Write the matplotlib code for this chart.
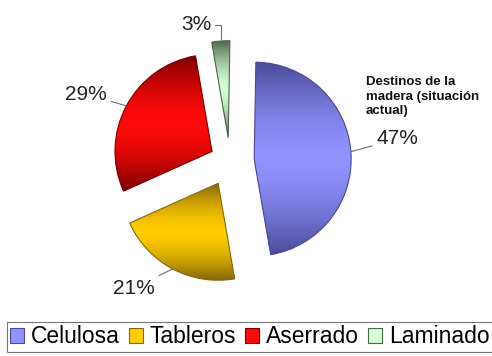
import numpy as np
import matplotlib
matplotlib.use("Agg")
import matplotlib.pyplot as plt
from matplotlib.patches import Patch
from matplotlib.colors import to_rgb

plt.rcParams['font.family'] = ['Liberation Sans', 'DejaVu Sans']

# data
categories = ["Celulosa", "Tableros", "Aserrado", "Laminado"]
values = [47, 21, 29, 3]
labels = ["47%", "21%", "29%", "3%"]
title = "Destinos de la\nmadera (situación\nactual)"

bright = ["#9292ff", "#ffcc00", "#ff0a0a", "#d4ffd4"]
dark = ["#4a4a98", "#86680a", "#7a0000", "#4a644a"]
explode_frac = [0.25, 0.26, 0.21, 0.24]

W, H = 492, 356
fig = plt.figure(figsize=(W / 100, H / 100), dpi=100)
ax = fig.add_axes([0, 0, 1, 1])

center = (230, 195)
R = 97
# matplotlib's explode is in data units -> scale by radius
explode = [f * R for f in explode_frac]
wedges, _ = ax.pie(values, explode=explode, startangle=89, counterclock=False,
                   center=center, radius=R, frame=True,
                   wedgeprops=dict(linewidth=0.8))
ax.set_xlim(0, W)
ax.set_ylim(0, H)
ax.set_aspect('equal')
ax.axis('off')

# gradient fills clipped to wedges
for w, b, d in zip(wedges, bright, dark):
    ext = w.get_path().get_extents(w.get_patch_transform())
    x0, y0, x1, y1 = ext.x0, ext.y0, ext.x1, ext.y1
    n = 200
    t = np.linspace(-1, 1, n)
    s = 1 - np.abs(t) ** 1.6
    bc, dc = np.array(to_rgb(b)), np.array(to_rgb(d))
    col = dc[None, :] * (1 - s[:, None]) + bc[None, :] * s[:, None]
    img = np.repeat(col[:, None, :], 2, axis=1)
    im = ax.imshow(img, extent=[x0, x1, y0, y1], origin='lower',
                   aspect='auto', interpolation='bilinear', zorder=1)
    im.set_clip_path(w)
    w.set_facecolor('none')
    w.set_edgecolor(d)
    w.set_zorder(2)

# percent labels with leaders
label_pos = {"47%": (397, 217), "21%": (134, 68), "29%": (86, 262), "3%": (196, 331)}
for w, lab in zip(wedges, labels):
    mid = np.deg2rad((w.theta1 + w.theta2) / 2)
    px = w.center[0] + w.r * np.cos(mid)
    py = w.center[1] + w.r * np.sin(mid)
    tx, ty = label_pos[lab]
    if lab == "3%":
        cs = "angle,angleA=0,angleB=90,rad=0"
    else:
        cs = "arc3"
    ax.annotate(lab, xy=(px, py), xytext=(tx, ty), ha='center', va='center',
                fontsize=15, color='#222222', zorder=3,
                arrowprops=dict(arrowstyle='-', color='#707070', lw=0.8,
                                shrinkA=1, shrinkB=0, connectionstyle=cs))

ax.text(366, 280, title, ha='left', va='top', fontsize=9.5, fontweight='bold',
        color='#111111', linespacing=1.3)

handles = [Patch(facecolor=b, edgecolor=d, lw=0.8) for b, d in zip(bright, dark)]
leg = fig.legend(handles, categories, loc='lower center', bbox_to_anchor=(0.508, 0.005),
                 ncol=4, fontsize=16.5, frameon=True, fancybox=False,
                 handlelength=0.6, handleheight=0.6, handletextpad=0.3,
                 columnspacing=0.4, borderpad=0.15, borderaxespad=0.1)
leg.get_frame().set_edgecolor('#555555')
leg.get_frame().set_linewidth(0.8)

fig.savefig("out.png", dpi=100, facecolor='white')
